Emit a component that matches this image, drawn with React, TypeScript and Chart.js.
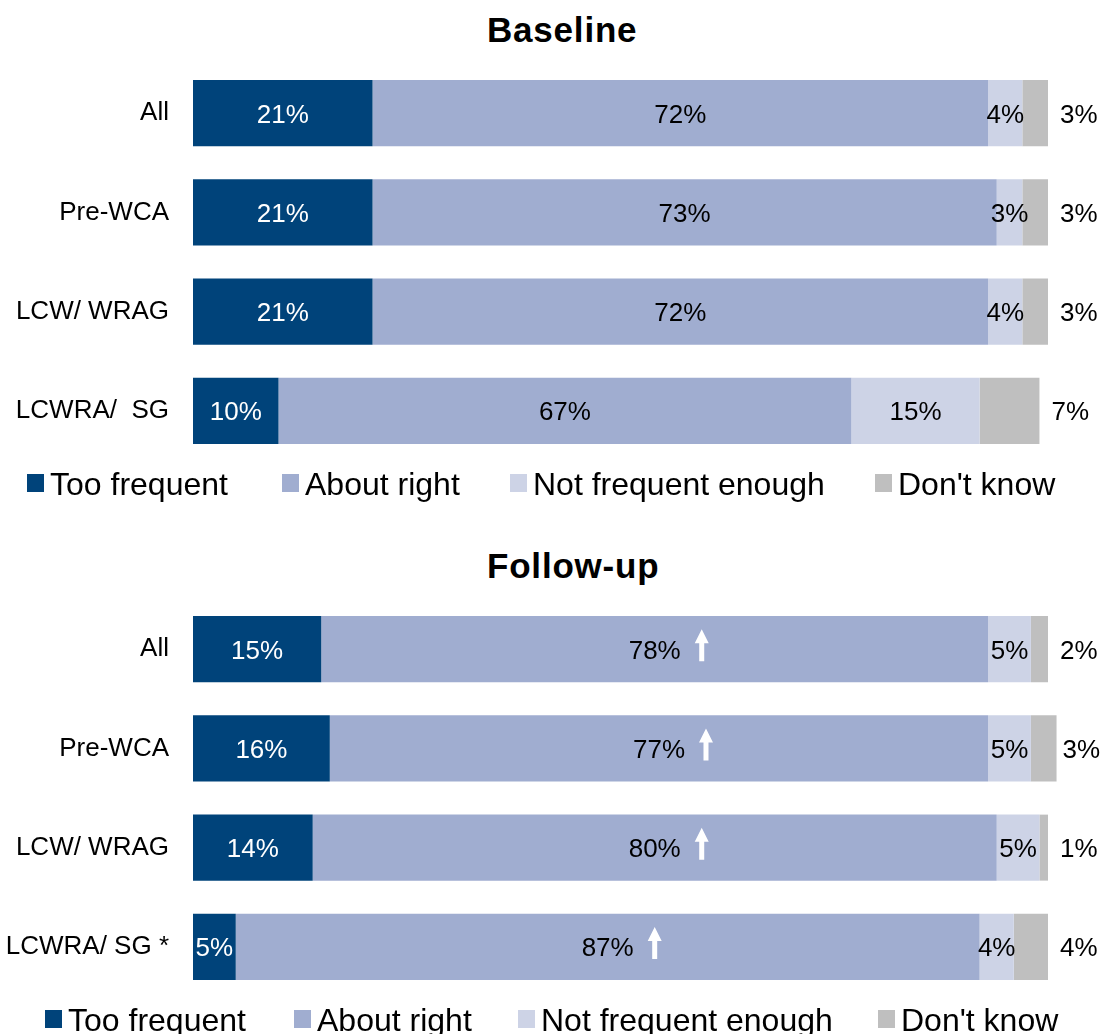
import React, { useEffect, useRef } from "react";
import { Chart, registerables } from "chart.js";

Chart.register(...registerables);

const SERIES = ["Too frequent", "About right", "Not frequent enough", "Don't know"];
const COLORS = ["#00437A", "#A0ADD0", "#CDD3E6", "#BFBFBF"];

const BASELINE_CATEGORIES = ["All", "Pre-WCA", "LCW/ WRAG", "LCWRA/  SG"];
const BASELINE_TOO_FREQUENT = [21, 21, 21, 10];
const BASELINE_ABOUT_RIGHT = [72, 73, 72, 67];
const BASELINE_NOT_ENOUGH = [4, 3, 4, 15];
const BASELINE_DONT_KNOW = [3, 3, 3, 7];
const BASELINE_SIG_UP = [false, false, false, false];

const FOLLOWUP_CATEGORIES = ["All", "Pre-WCA", "LCW/ WRAG", "LCWRA/ SG *"];
const FOLLOWUP_TOO_FREQUENT = [15, 16, 14, 5];
const FOLLOWUP_ABOUT_RIGHT = [78, 77, 80, 87];
const FOLLOWUP_NOT_ENOUGH = [5, 5, 5, 4];
const FOLLOWUP_DONT_KNOW = [2, 3, 1, 4];
const FOLLOWUP_SIG_UP = [true, true, true, true];

const FONT = '"Liberation Sans", Arial, Helvetica, sans-serif';

function drawArrow(ctx: CanvasRenderingContext2D, cx: number, cy: number) {
  ctx.save();
  ctx.fillStyle = "#FFFFFF";
  ctx.beginPath();
  ctx.moveTo(cx, cy - 20);
  ctx.lineTo(cx + 7, cy - 6);
  ctx.lineTo(cx + 2.5, cy - 6);
  ctx.lineTo(cx + 2.5, cy + 12);
  ctx.lineTo(cx - 2.5, cy + 12);
  ctx.lineTo(cx - 2.5, cy - 6);
  ctx.lineTo(cx - 7, cy - 6);
  ctx.closePath();
  ctx.fill();
  ctx.restore();
}

const segLabels = {
  id: "segLabels",
  afterDatasetsDraw(chart: any, _args: any, opts: any) {
    const ctx: CanvasRenderingContext2D = chart.ctx;
    ctx.save();
    ctx.font = `26px ${FONT}`;
    ctx.textBaseline = "alphabetic";
    chart.data.datasets.forEach((ds: any, di: number) => {
      const meta = chart.getDatasetMeta(di);
      meta.data.forEach((bar: any, i: number) => {
        const v = ds.data[i];
        const { x, y, base } = bar.getProps(["x", "y", "base"], true);
        const text = `${v}%`;
        const ty = y + 9.5;
        if (di === 3) {
          ctx.textAlign = "left";
          ctx.fillStyle = "#000000";
          const w = ctx.measureText(text).width;
          const lx = Math.min(x + 12, chart.width - w - 2);
          ctx.fillText(text, lx, ty);
        } else {
          const cx = (x + base) / 2;
          ctx.textAlign = "center";
          ctx.fillStyle = di === 0 ? "#FFFFFF" : "#000000";
          ctx.fillText(text, cx, ty);
          if (di === 1 && opts && opts.arrows && opts.arrows[i]) {
            const w = ctx.measureText(text).width;
            drawArrow(ctx, cx + w / 2 + 21, y);
          }
        }
      });
    });
    ctx.restore();
  },
};

type PanelProps = {
  top: number;
  title: string;
  categories: string[];
  series: number[][];
  arrows: boolean[];
  legendX: number[];
};

function Panel({ top, title, categories, series, arrows, legendX }: PanelProps) {
  const ref = useRef<HTMLCanvasElement>(null);
  useEffect(() => {
    if (!ref.current) return;
    const chart = new Chart(ref.current, {
      type: "bar",
      data: {
        labels: categories,
        datasets: series.map((d, k) => ({
          label: SERIES[k],
          data: d,
          backgroundColor: COLORS[k],
          borderWidth: 0,
          barPercentage: 0.665,
          categoryPercentage: 1,
          clip: false as any,
        })),
      },
      options: {
        indexAxis: "y",
        responsive: false,
        animation: false,
        events: [],
        layout: { padding: { top: 63.5, bottom: 9.5, left: 0, right: 54 } },
        scales: {
          x: { stacked: true, min: 0, max: 100, display: false },
          y: {
            stacked: true,
            grid: { display: false, drawTicks: false },
            border: { display: false },
            ticks: { color: "#000000", font: { family: FONT, size: 26 }, padding: 24 },
            afterFit: (scale: any) => {
              scale.width = 193;
              scale.paddingTop = 0;
              scale.paddingBottom = 0;
            },
          },
        },
        plugins: {
          legend: { display: false },
          title: { display: false },
          tooltip: { enabled: false },
          segLabels: { arrows },
        } as any,
      },
      plugins: [segLabels],
    });
    return () => chart.destroy();
  }, []);

  return (
    <div style={{ position: "absolute", left: 0, top, width: 1102, height: 536 }}>
      <div
        style={{
          position: "absolute",
          left: 487,
          top: 12,
          fontFamily: FONT,
          fontWeight: "bold",
          fontSize: 35,
          letterSpacing: "0.8px",
          lineHeight: "35px",
          whiteSpace: "nowrap",
          color: "#000",
        }}
      >
        {title}
      </div>
      <canvas ref={ref} width={1102} height={470} style={{ position: "absolute", left: 0, top: 0, width: 1102, height: 470 }} />
      {SERIES.map((s, k) => (
        <div key={s} style={{ position: "absolute", left: legendX[k], top: 468, height: 32, whiteSpace: "nowrap" }}>
          <div
            style={{
              position: "absolute",
              left: 0,
              top: 6,
              width: 17,
              height: 18,
              background: COLORS[k],
            }}
          />
          <div
            style={{
              position: "absolute",
              left: 23,
              top: 0,
              fontFamily: FONT,
              fontSize: 32,
              lineHeight: "32px",
              color: "#000",
            }}
          >
            {s}
          </div>
        </div>
      ))}
    </div>
  );
}

export default function App() {
  return (
    <div
      style={{
        position: "absolute",
        left: 0,
        top: 0,
        width: 1102,
        height: 1034,
        overflow: "hidden",
        background: "#FFFFFF",
      }}
    >
      <Panel
        top={0}
        title="Baseline"
        categories={BASELINE_CATEGORIES}
        series={[BASELINE_TOO_FREQUENT, BASELINE_ABOUT_RIGHT, BASELINE_NOT_ENOUGH, BASELINE_DONT_KNOW]}
        arrows={BASELINE_SIG_UP}
        legendX={[27, 282, 510, 875]}
      />
      <Panel
        top={536}
        title="Follow-up"
        categories={FOLLOWUP_CATEGORIES}
        series={[FOLLOWUP_TOO_FREQUENT, FOLLOWUP_ABOUT_RIGHT, FOLLOWUP_NOT_ENOUGH, FOLLOWUP_DONT_KNOW]}
        arrows={FOLLOWUP_SIG_UP}
        legendX={[45, 294, 518, 878]}
      />
    </div>
  );
}
